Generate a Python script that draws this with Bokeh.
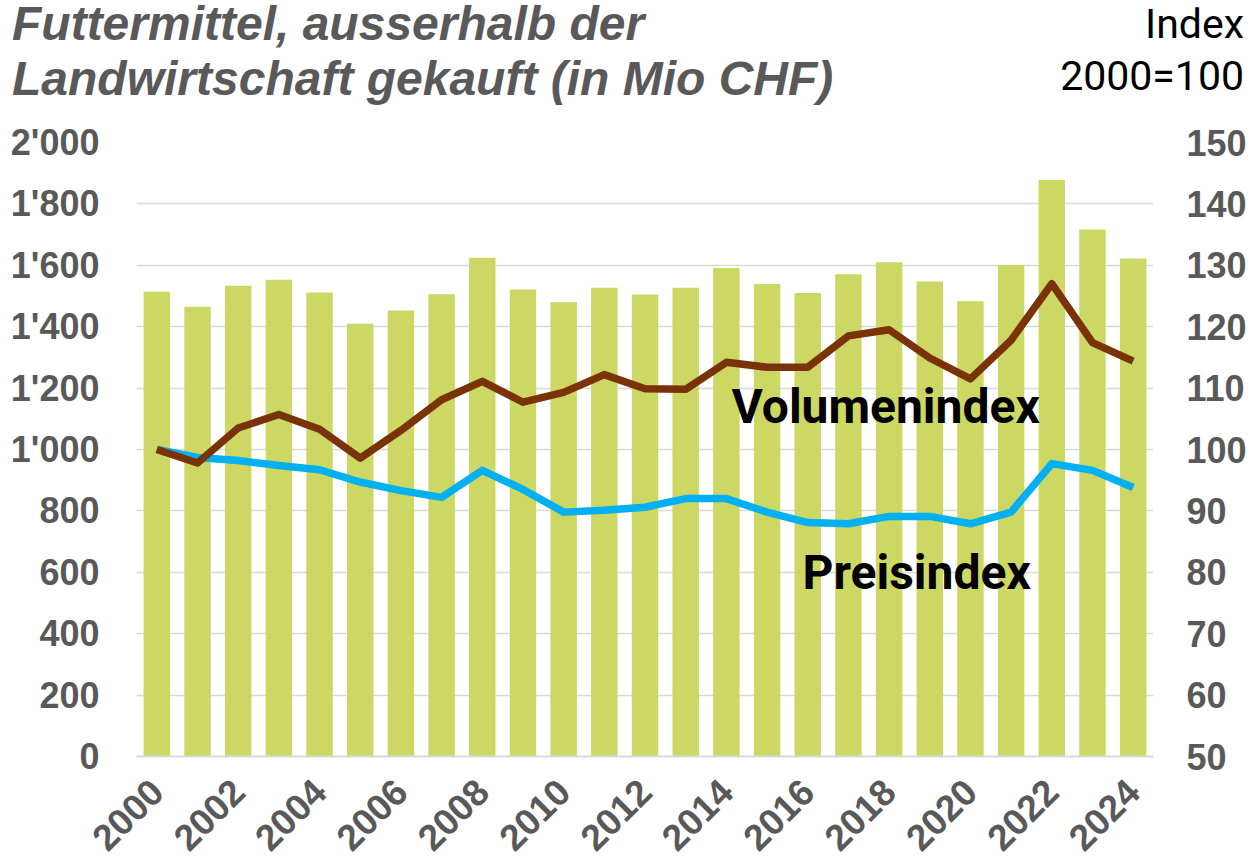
import math
from bokeh.plotting import figure
from bokeh.models import Range1d, LinearAxis, FixedTicker, Label, Div
from bokeh.layouts import column
from bokeh.embed import file_html
from bokeh.resources import INLINE

# ---------------- data ----------------
years = list(range(2000, 2025))
futtermittel = [1514, 1465, 1533, 1553, 1511, 1410, 1453, 1506, 1625, 1521,
                1480, 1527, 1505, 1527, 1591, 1539, 1510, 1571, 1610, 1547,
                1483, 1601, 1878, 1717, 1622]
volumenindex = [100.0, 97.8, 103.5, 105.7, 103.3, 98.6, 103.1, 108.1, 111.1, 107.7,
                109.3, 112.2, 109.9, 109.8, 114.2, 113.4, 113.4, 118.5, 119.5, 114.9,
                111.5, 117.8, 127.0, 117.4, 114.4]
preisindex = [100.0, 98.7, 98.2, 97.4, 96.7, 94.7, 93.3, 92.2, 96.6, 93.5,
              89.8, 90.1, 90.6, 92.0, 92.0, 89.8, 88.1, 87.9, 89.1, 89.1,
              87.9, 89.8, 97.7, 96.6, 93.8]
left_ticks = [0, 200, 400, 600, 800, 1000, 1200, 1400, 1600, 1800, 2000]
left_labels = ["0", "200", "400", "600", "800", "1'000", "1'200", "1'400",
               "1'600", "1'800", "2'000"]
right_ticks = [50, 60, 70, 80, 90, 100, 110, 120, 130, 140, 150]
x_ticks = [2000, 2002, 2004, 2006, 2008, 2010, 2012, 2014, 2016, 2018, 2020, 2022, 2024]
title_lines = ["Futtermittel, ausserhalb der", "Landwirtschaft gekauft (in Mio CHF)"]
index_lines = ["Index", "2000=100"]

GRAY = "#595959"
BAR = "#CDD763"
BROWN = "#7A3208"
BLUE = "#00B0F0"
GRID = "#D9D9D9"

TOTAL_W = 1249
HEAD_H = 110

# ---------------- header (title + index note) ----------------
title_css = ("position:absolute;left:12px;white-space:nowrap;font-family:'Liberation Sans';"
             "font-style:italic;font-weight:bold;font-size:48px;line-height:48px;color:%s;" % GRAY)
index_css = ("position:absolute;right:5px;text-align:right;white-space:nowrap;font-family:Roboto;"
             "font-weight:normal;font-size:41px;line-height:41px;color:#000000;")
header_html = (
    '<div style="position:relative;width:%dpx;height:%dpx;">' % (TOTAL_W, HEAD_H)
    + '<div style="%stop:0px;">%s</div>' % (title_css, title_lines[0])
    + '<div style="%stop:55px;">%s</div>' % (title_css, title_lines[1])
    + '<div style="%stop:4px;">%s</div>' % (index_css, index_lines[0])
    + '<div style="%stop:56px;">%s</div>' % (index_css, index_lines[1])
    + '</div>'
)
header = Div(text=header_html, width=TOTAL_W, height=HEAD_H, margin=(0, 0, 0, 0))

# ---------------- chart ----------------
p = figure(frame_width=1017, frame_height=614,
           x_range=Range1d(1999.5, 2024.5), y_range=Range1d(0, 2000),
           output_backend="svg", toolbar_location=None,
           min_border_left=136, min_border_right=96,
           min_border_top=32, min_border_bottom=96,
           margin=(0, 0, 0, 0))
p.outline_line_color = None
p.background_fill_color = "white"
p.border_fill_color = "white"
p.extra_y_ranges = {"idx": Range1d(50, 150)}

p.vbar(x=years, top=futtermittel, bottom=0, width=0.65, fill_color=BAR, line_color=None)
p.line(years, preisindex, y_range_name="idx", line_color=BLUE, line_width=7.5, line_join="round")
p.line(years, volumenindex, y_range_name="idx", line_color=BROWN, line_width=7.5, line_join="round")

p.xgrid.visible = False
p.ygrid.grid_line_color = GRID
p.ygrid.grid_line_width = 1.5
p.ygrid.ticker = FixedTicker(ticks=left_ticks)

def style_axis(ax, standoff, size="36px"):
    ax.major_tick_line_color = None
    ax.minor_tick_line_color = None
    ax.major_label_text_font = "Liberation Sans"
    ax.major_label_text_font_style = "bold"
    ax.major_label_text_font_size = size
    ax.major_label_text_color = GRAY
    ax.major_label_standoff = standoff

xa = p.xaxis[0]
xa.ticker = FixedTicker(ticks=x_ticks)
style_axis(xa, 23, "37px")
xa.major_label_orientation = math.pi / 4
xa.axis_line_color = GRID
xa.axis_line_width = 2

ya = p.yaxis[0]
ya.ticker = FixedTicker(ticks=left_ticks)
ya.major_label_overrides = {t: s for t, s in zip(left_ticks, left_labels)}
style_axis(ya, 31, "36px")
ya.axis_line_color = None

ra = LinearAxis(y_range_name="idx", ticker=FixedTicker(ticks=right_ticks))
style_axis(ra, 27, "36px")
ra.axis_line_color = None
p.add_layout(ra, "right")

# series labels (screen px relative to the frame)
p.add_layout(Label(x=595, y=350, x_units="screen", y_units="screen", text="Volumenindex",
                   text_font="Roboto", text_font_style="bold", text_font_size="48px",
                   text_color="black", text_baseline="alphabetic", text_align="left"))
p.add_layout(Label(x=666, y=184, x_units="screen", y_units="screen", text="Preisindex",
                   text_font="Roboto", text_font_style="bold", text_font_size="48px",
                   text_color="black", text_baseline="alphabetic", text_align="left"))

layout = column(header, p, spacing=0)
open("out.html", "w").write(file_html(layout, INLINE))
